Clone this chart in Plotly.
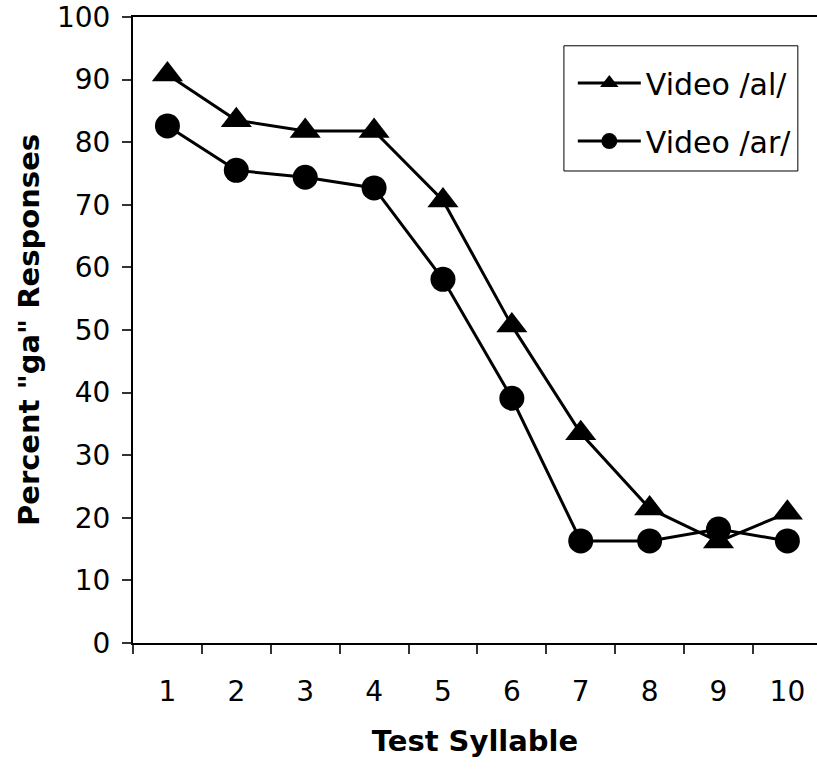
import plotly.graph_objects as go

syllables = ["1", "2", "3", "4", "5", "6", "7", "8", "9", "10"]
video_al = [90.8, 83.5, 81.8, 81.8, 70.7, 50.7, 33.5, 21.5, 16.2, 20.8]
video_ar = [82.6, 75.5, 74.4, 72.7, 58.1, 39.1, 16.3, 16.3, 18.2, 16.3]
y_ticks = [0, 10, 20, 30, 40, 50, 60, 70, 80, 90, 100]

FONT = "DejaVu Sans"

fig = go.Figure()
fig.add_trace(go.Scatter(
    x=syllables, y=video_al, name="Video /al/", mode="lines+markers",
    line=dict(color="black", width=3),
    marker=dict(symbol="triangle-up", size=27, color="black"),
    legendgroup="a",
))
fig.add_trace(go.Scatter(
    x=syllables, y=video_ar, name="Video /ar/", mode="lines+markers",
    line=dict(color="black", width=3),
    marker=dict(symbol="circle", size=25, color="black"),
    legendgroup="b",
))

# legend frame
fig.add_shape(type="rect", xref="paper", yref="paper",
              x0=0.630, x1=0.972, y0=0.754, y1=0.954,
              line=dict(color="black", width=1), fillcolor="rgba(0,0,0,0)")

fig.update_layout(
    width=817, height=769,
    margin=dict(l=133, r=0, t=17, b=126, autoexpand=False),
    paper_bgcolor="white", plot_bgcolor="white",
    font=dict(family=FONT, size=28, color="black"),
    showlegend=True,
    legend=dict(
        x=0.643, y=0.936, xanchor="left", yanchor="top",
        borderwidth=0, bgcolor="rgba(0,0,0,0)",
        font=dict(family=FONT, size=30, color="black"),
        traceorder="grouped", tracegroupgap=16,
        itemwidth=63,
    ),
    xaxis=dict(
        type="category", categoryorder="array", categoryarray=syllables,
        range=[-0.5, 9.43], tickson="boundaries", automargin=False,
        showline=True, linecolor="black", linewidth=2, mirror=True,
        ticks="outside", ticklen=9, tickwidth=1.5, tickcolor="#333",
        showgrid=False, zeroline=False,
        tickfont=dict(family=FONT, size=28),
        ticklabelstandoff=22,
        title=dict(text="<b>Test Syllable</b>", font=dict(family=FONT, size=29), standoff=24),
    ),
    yaxis=dict(
        range=[0, 100], tickvals=y_ticks, automargin=False,
        showline=True, linecolor="black", linewidth=2,
        ticks="outside", ticklen=9, tickwidth=1.5, tickcolor="#333",
        showgrid=False, zeroline=False,
        tickfont=dict(family=FONT, size=28),
        ticklabelstandoff=6, ticklabeloverflow="allow",
        title=dict(text="<b>Percent \"ga\" Responses</b>", font=dict(family=FONT, size=29), standoff=9),
    ),
)

fig.write_html("out.html", config={"displayModeBar": False},
               post_script="document.body.style.margin='0';")
